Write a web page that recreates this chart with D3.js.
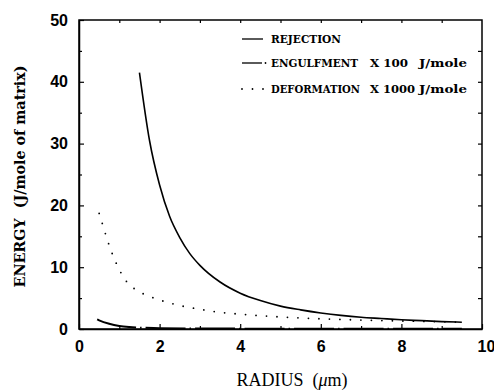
<!DOCTYPE html>
<html>
<head>
<meta charset="utf-8">
<script src="https://cdn.jsdelivr.net/npm/d3@7"></script>
<style>
  body { margin: 0; background: #fff; }
  svg { display: block; }
</style>
</head>
<body>
<div id="chart"></div>
<script>
// values
const rejR = [1.5, 1.75, 2, 2.25, 2.5, 2.75, 3, 3.5, 4, 4.5, 5, 5.5, 6, 6.5, 7, 7.5, 8, 8.5, 9, 9.5];
const rejE = [41.5, 30.5, 23.3, 18.2, 14.8, 12.2, 10.3, 7.6, 5.8, 4.6, 3.7, 3.1, 2.6, 2.2, 1.9, 1.7, 1.5, 1.35, 1.2, 1.1];

const engR = [0.45, 0.5, 0.75, 1, 1.25, 1.5, 2, 3, 4, 5, 6, 7, 8, 9, 9.5];
const engE = [1.55, 1.4, 0.85, 0.5, 0.32, 0.22, 0.14, 0.08, 0.06, 0.05, 0.04, 0.04, 0.03, 0.03, 0.03];

const defR = [0.5, 0.6, 0.7, 0.8, 0.9, 1, 1.2, 1.4, 1.7, 2, 2.5, 3, 3.5, 4, 5, 6, 7, 8, 9, 9.5];
const defE = [18.7, 16.6, 14.5, 12.6, 11, 9.6, 7.5, 6.4, 5.4, 4.7, 3.8, 3.2, 2.7, 2.4, 1.95, 1.65, 1.45, 1.3, 1.17, 1.1];

const xTicks = [0, 2, 4, 6, 8, 10];
const yTicks = [0, 10, 20, 30, 40, 50];

// legend text, split into the pieces that sit in columns
const legendLabels = [
  ['REJECTION'],
  ['ENGULFMENT', 'X 100', 'J/mole'],
  ['DEFORMATION', 'X 1000', 'J/mole']
];

const width = 494, height = 392;
const margin = { left: 79, top: 20, right: 12, bottom: 63 };

const svg = d3.select('#chart').append('svg')
  .attr('width', width)
  .attr('height', height);

const x = d3.scaleLinear().domain([0, 10]).range([margin.left, width - margin.right]);
const y = d3.scaleLinear().domain([0, 50]).range([height - margin.bottom, margin.top]);

const line = d3.line().x(d => x(d[0])).y(d => y(d[1])).curve(d3.curveMonotoneX);

// frame
svg.append('rect')
  .attr('x', x(0)).attr('y', y(50))
  .attr('width', x(10) - x(0)).attr('height', y(0) - y(50))
  .attr('fill', 'none').attr('stroke', '#000').attr('stroke-width', 1.5);

// axes with inward ticks
const tickFont = 'bold 16px "Liberation Sans", Arial, sans-serif';

const xAxis = svg.append('g')
  .attr('transform', `translate(0,${y(0)})`)
  .call(d3.axisBottom(x).tickValues(xTicks).tickSizeInner(-5).tickSizeOuter(0).tickPadding(13));
const yAxis = svg.append('g')
  .attr('transform', `translate(${x(0)},0)`)
  .call(d3.axisLeft(y).tickValues(yTicks).tickSizeInner(-5).tickSizeOuter(0).tickPadding(11));

// minor ticks
svg.append('g')
  .attr('transform', `translate(0,${y(0)})`)
  .call(d3.axisBottom(x).tickValues(d3.range(1, 10, 2)).tickSize(-3).tickFormat(''))
  .select('.domain').remove();
svg.append('g')
  .attr('transform', `translate(${x(0)},0)`)
  .call(d3.axisLeft(y).tickValues(d3.range(5, 50, 10)).tickSize(-3).tickFormat(''))
  .select('.domain').remove();
svg.append('g')
  .attr('transform', `translate(${x(10)},0)`)
  .call(d3.axisRight(y).tickValues(d3.range(5, 50, 5)).tickSize(-4).tickFormat(''))
  .select('.domain').remove();
svg.append('g')
  .attr('transform', `translate(0,${y(50)})`)
  .call(d3.axisTop(x).tickValues(d3.range(1, 10, 1)).tickSize(-3).tickFormat(''))
  .select('.domain').remove();

[xAxis, yAxis].forEach(g => {
  g.select('.domain').attr('stroke-width', 1.5);
  g.selectAll('text').style('font', tickFont).attr('fill', '#000');
});
xAxis.selectAll('text').attr('dy', '0.6em');
xAxis.selectAll('.tick').filter(d => d === 10).select('text').attr('dx', 4);
svg.selectAll('.tick line').attr('stroke-width', 1.2);

// curves
svg.append('path')
  .datum(d3.zip(rejR, rejE))
  .attr('d', line)
  .attr('fill', 'none').attr('stroke', '#000').attr('stroke-width', 1.6);

svg.append('path')
  .datum(d3.zip(engR, engE))
  .attr('d', line)
  .attr('fill', 'none').attr('stroke', '#000').attr('stroke-width', 2)
  .attr('stroke-dasharray', '40,4,1.5,4');

svg.append('path')
  .datum(d3.zip(defR, defE))
  .attr('d', line)
  .attr('fill', 'none').attr('stroke', '#000').attr('stroke-width', 1.8)
  .attr('stroke-linecap', 'round')
  .attr('stroke-dasharray', '0,10.5');

// legend
const legendFont = 'bold 11.5px "DejaVu Serif", "Liberation Serif", serif';
const legendY = [39, 63, 89];
const colX = [271, 370, 419];
const colW = [[70], [87, 38, 48], [89, 45, 48]];
const legend = svg.append('g');
legendLabels.forEach((parts, i) => {
  const ly = legendY[i];
  const sample = legend.append('line')
    .attr('x1', 242).attr('x2', i === 1 ? 262 : 263)
    .attr('y1', ly).attr('y2', ly)
    .attr('stroke', '#000').attr('stroke-width', i === 2 ? 1.8 : 1.3);
  if (i === 2) sample.attr('x2', 264).attr('stroke-linecap', 'round').attr('stroke-dasharray', '0,10.5');
  if (i === 1) {
    legend.append('circle').attr('cx', 265.5).attr('cy', ly).attr('r', 0.9).attr('fill', '#000');
  }
  parts.forEach((p, j) => {
    legend.append('text')
      .attr('x', colX[j]).attr('y', ly + 4)
      .attr('textLength', colW[i][j])
      .attr('lengthAdjust', 'spacingAndGlyphs')
      .style('font', legendFont)
      .text(p);
  });
});

// axis titles
svg.append('text')
  .attr('transform', `translate(25,${(y(0) + y(50)) / 2 + 2}) rotate(-90)`)
  .attr('text-anchor', 'middle')
  .attr('textLength', 222)
  .attr('lengthAdjust', 'spacingAndGlyphs')
  .style('font', 'bold 14px "DejaVu Serif", "Liberation Serif", serif')
  .style('white-space', 'pre')
  .text('ENERGY  (J/mole of matrix)');

const xt = svg.append('text')
  .attr('x', 292).attr('y', 386)
  .attr('text-anchor', 'middle')
  .style('font', '18px "Liberation Serif", "DejaVu Serif", serif')
  .style('white-space', 'pre');
xt.append('tspan').text('RADIUS  (');
xt.append('tspan').style('font-style', 'italic').text('μ');
xt.append('tspan').text('m)');
</script>
</body>
</html>
